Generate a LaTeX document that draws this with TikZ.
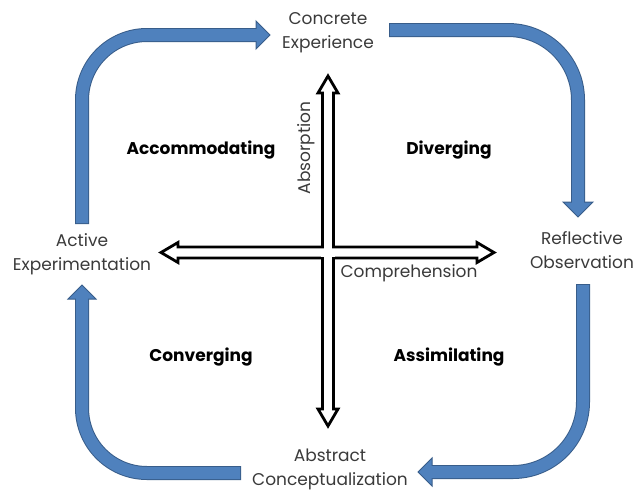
\documentclass[tikz,border=0pt]{standalone}
\usepackage{fontspec}
\usetikzlibrary{calc}
\setmainfont{Poppins}
\definecolor{bfill}{HTML}{4F81BD}
\definecolor{bline}{HTML}{385D8A}
\definecolor{stagetext}{HTML}{3A3A3A}
\tikzset{
  stage/.style={align=center, text=stagetext, font=\fontsize{17}{24.5}\selectfont, inner sep=0pt},
  quad/.style={font=\bfseries\fontsize{17}{20}\selectfont, inner sep=0pt},
  axislabel/.style={text=stagetext, font=\fontsize{17}{20}\selectfont, inner sep=0pt},
  shaftout/.style={draw=bline, line width=14pt, rounded corners=#1},
  shaftin/.style={draw=bfill, line width=12pt, rounded corners=#1},
  bhead/.style={fill=bfill, draw=bline, line width=1pt, line join=miter},
  dbl/.style={fill=white, draw=black, line width=2.8pt, line join=miter}
}
\begin{document}
\begin{tikzpicture}[x=1pt,y=-1pt]
\useasboundingbox (0,0) rectangle (637,493);

% stage nodes
\node[stage] (ce) at (328,32.5) {Concrete\\Experience};
\node[stage] (ro) at (582,250) {Reflective\\Observation};
\node[stage] (ac) at (330,469.5) {Abstract\\Conceptualization};
\node[stage] (ae) at (82,254) {Active\\Experimentation};

% quadrant labels
\node[quad] (q1) at (201,150) {Accommodating};
\node[quad] (q2) at (449,150) {Diverging};
\node[quad] (q3) at (201,357) {Converging};
\node[quad] (q4) at (449,357) {Assimilating};

% blue cycle arrows
% A: Active Experimentation -> Concrete Experience
\coordinate (a0) at (82,223); \coordinate (a1) at (82,35); \coordinate (a2) at (256,35);
\draw[shaftout=65pt] ($(a0)+(0,1)$) -- (a1) -- (a2);
\filldraw[bhead] (256,21) -- (270,35) -- (256,49) -- cycle;
\draw[shaftin=65pt] (a0) -- (a1) -- ($(a2)+(1.5,0)$);

% B: Concrete Experience -> Reflective Observation
\coordinate (b0) at (390,30); \coordinate (b1) at (578,30); \coordinate (b2) at (578,202);
\draw[shaftout=70pt] ($(b0)+(-1,0)$) -- (b1) -- (b2);
\filldraw[bhead] (563,202) -- (578,217) -- (593,202) -- cycle;
\draw[shaftin=70pt] (b0) -- (b1) -- ($(b2)+(0,1.5)$);

% C: Reflective Observation -> Abstract Conceptualization
\coordinate (c0) at (583,285); \coordinate (c1) at (583,472); \coordinate (c2) at (432,472);
\draw[shaftout=70pt] ($(c0)+(0,-1)$) -- (c1) -- (c2);
\filldraw[bhead] (432,458) -- (418,472) -- (432,486) -- cycle;
\draw[shaftin=70pt] (c0) -- (c1) -- ($(c2)+(-1.5,0)$);

% D: Abstract Conceptualization -> Active Experimentation
\coordinate (d0) at (240,473); \coordinate (d1) at (82,473); \coordinate (d2) at (82,299);
\draw[shaftout=65pt] ($(d0)+(1,0)$) -- (d1) -- (d2);
\filldraw[bhead] (68,299) -- (82,285) -- (96,299) -- cycle;
\draw[shaftin=65pt] (d0) -- (d1) -- ($(d2)+(0,-1.5)$);

% central cross of double arrows
\coordinate (vc) at (328,252.5);
\draw[dbl] (328,76) -- (338,93) -- (333.5,93) -- (333.5,409) -- (338,409) -- (328,426)
  -- (318,409) -- (322.5,409) -- (322.5,93) -- (318,93) -- cycle;
\draw[dbl] (161,252.5) -- (178,242.5) -- (178,247) -- (477,247) -- (477,242.5) -- (494,252.5)
  -- (477,262.5) -- (477,258) -- (178,258) -- (178,262.5) -- cycle;
\fill[white] (320.9,248.5) rectangle (335.1,256.5);
\fill[white] (324,245.4) rectangle (332,259.6);

% axis labels
\node[axislabel, rotate=90] (abs) at (306,148) {Absorption};
\node[axislabel] (comp) at (409,273) {Comprehension};
\end{tikzpicture}
\end{document}
